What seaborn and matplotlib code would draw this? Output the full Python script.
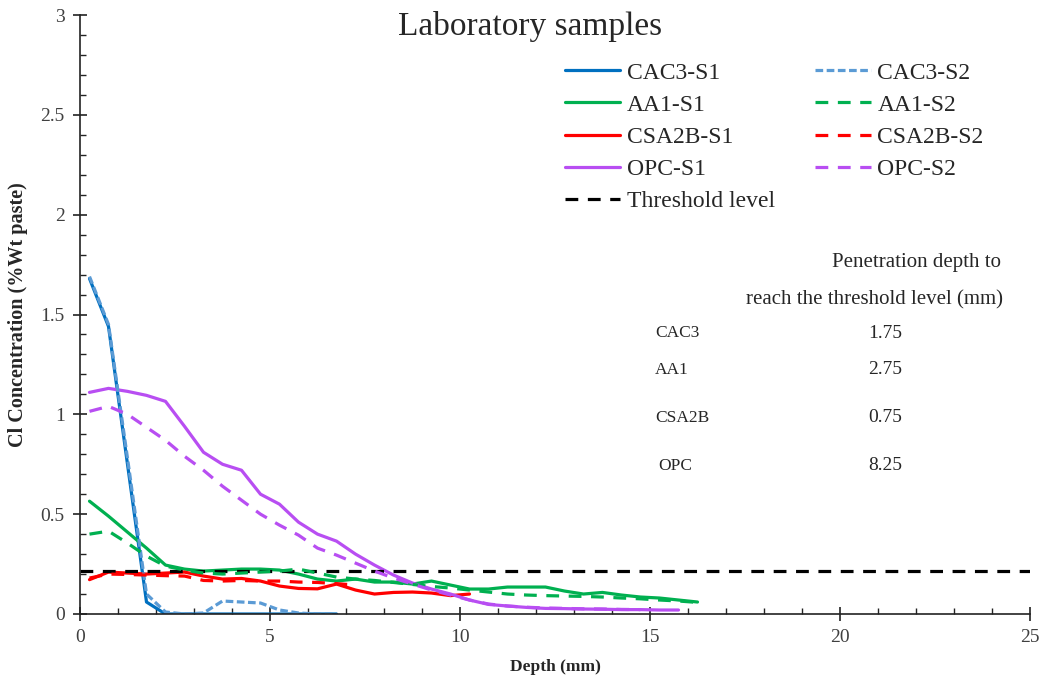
import numpy as np
import pandas as pd
import matplotlib
matplotlib.use("Agg")
import matplotlib.pyplot as plt
import seaborn as sns

# ---------------- data ----------------
cac3_s1_x = [0.25, 0.75, 1.25, 1.75, 2.25, 2.75, 3.25, 3.75, 4.25, 4.75, 5.25, 5.75, 6.25, 6.75]
cac3_s1_y = [1.68, 1.44, 0.75, 0.06, 0.0, 0.0, 0.0, 0.0, 0.0, 0.0, 0.0, 0.0, 0.0, 0.0]
cac3_s2_x = [0.25, 0.75, 1.25, 1.75, 2.25, 2.75, 3.25, 3.75, 4.25, 4.75, 5.25, 5.75, 6.25, 6.75]
cac3_s2_y = [1.69, 1.45, 0.78, 0.10, 0.01, 0.0, 0.005, 0.065, 0.06, 0.055, 0.02, 0.005, 0.0, 0.0]

aa1_s1_x = [0.25, 0.75, 1.25, 1.75, 2.25, 2.75, 3.25, 3.75, 4.25, 4.75, 5.25, 5.75, 6.25, 6.75,
            7.25, 7.75, 8.25, 8.75, 9.25, 9.75, 10.25, 10.75, 11.25, 11.75, 12.25, 12.75, 13.25,
            13.75, 14.25, 14.75, 15.25, 15.75, 16.25]
aa1_s1_y = [0.565, 0.49, 0.41, 0.33, 0.245, 0.225, 0.215, 0.22, 0.225, 0.225, 0.22, 0.20, 0.175,
            0.165, 0.175, 0.16, 0.16, 0.15, 0.165, 0.145, 0.125, 0.125, 0.135, 0.135, 0.135, 0.115,
            0.10, 0.108, 0.095, 0.085, 0.08, 0.07, 0.06]
aa1_s2_x = [0.25, 0.75, 1.25, 1.75, 2.25, 2.75, 3.25, 3.75, 4.25, 4.75, 5.25, 5.75, 6.25, 6.75,
            7.25, 7.75, 8.25, 8.75, 9.25, 9.75, 10.25, 10.75, 11.25, 11.75, 12.25, 12.75, 13.25,
            13.75, 14.25, 14.75, 15.25, 15.75, 16.25]
aa1_s2_y = [0.40, 0.415, 0.355, 0.29, 0.24, 0.22, 0.205, 0.20, 0.205, 0.21, 0.215, 0.225, 0.205,
            0.185, 0.175, 0.168, 0.158, 0.148, 0.138, 0.13, 0.12, 0.11, 0.10, 0.095, 0.092, 0.09,
            0.088, 0.085, 0.08, 0.076, 0.07, 0.065, 0.058]

csa_s1_x = [0.25, 0.75, 1.25, 1.75, 2.25, 2.75, 3.25, 3.75, 4.25, 4.75, 5.25, 5.75, 6.25, 6.75,
            7.25, 7.75, 8.25, 8.75, 9.25, 9.75, 10.25]
csa_s1_y = [0.172, 0.21, 0.205, 0.20, 0.205, 0.21, 0.19, 0.175, 0.178, 0.165, 0.14, 0.128, 0.126,
            0.15, 0.12, 0.10, 0.108, 0.11, 0.105, 0.092, 0.10]
csa_s2_x = [0.25, 0.75, 1.25, 1.75, 2.25, 2.75, 3.25, 3.75, 4.25, 4.75, 5.25, 5.75, 6.25, 6.75, 7.25]
csa_s2_y = [0.18, 0.20, 0.198, 0.195, 0.192, 0.19, 0.168, 0.165, 0.168, 0.165, 0.165, 0.16, 0.158,
            0.152, 0.145]

opc_s1_x = [0.25, 0.75, 1.25, 1.75, 2.25, 2.75, 3.25, 3.75, 4.25, 4.75, 5.25, 5.75, 6.25, 6.75,
            7.25, 7.75, 8.25, 8.75, 9.25, 9.75, 10.25, 10.75, 11.25, 11.75, 12.25, 12.75, 13.25,
            13.75, 14.25, 14.75, 15.25, 15.75]
opc_s1_y = [1.11, 1.13, 1.115, 1.095, 1.065, 0.94, 0.81, 0.75, 0.72, 0.60, 0.55, 0.46, 0.40, 0.365,
            0.30, 0.245, 0.195, 0.155, 0.125, 0.10, 0.07, 0.048, 0.04, 0.033, 0.028, 0.027, 0.025,
            0.024, 0.022, 0.022, 0.02, 0.02]
opc_s2_x = [0.25, 0.75, 1.25, 1.75, 2.25, 2.75, 3.25, 3.75, 4.25, 4.75, 5.25, 5.75, 6.25, 6.75,
            7.25, 7.75, 8.25, 8.75, 9.25, 9.75, 10.25, 10.75, 11.25, 11.75, 12.25, 12.75, 13.25,
            13.75, 14.25, 14.75]
opc_s2_y = [1.015, 1.04, 1.0, 0.935, 0.87, 0.79, 0.72, 0.64, 0.57, 0.50, 0.445, 0.395, 0.33, 0.295,
            0.255, 0.215, 0.18, 0.15, 0.12, 0.095, 0.07, 0.05, 0.04, 0.034, 0.03, 0.028, 0.026,
            0.025, 0.023, 0.022]

threshold_x = [0, 25]
threshold_y = [0.215, 0.215]

table_materials = ["CAC3", "AA1", "CSA2B", "OPC"]
table_depths = ["1.75", "2.75", "0.75", "8.25"]

# ---------------- style ----------------
sns.set_theme(style="white")
plt.rcParams["font.family"] = ["Liberation Serif", "DejaVu Serif"]
plt.rcParams["axes.unicode_minus"] = False

W, H = 1044, 686
fig = plt.figure(figsize=(W / 100, H / 100), dpi=100)
AX_L, AX_R, AX_T, AX_B = 80, 1030, 15, 614
ax = fig.add_axes([AX_L / W, 1 - AX_B / H, (AX_R - AX_L) / W, (AX_B - AX_T) / H])

BLUE = "#0070C0"
LBLUE = "#5B9BD5"
GREEN = "#00B050"
RED = "#FF0000"
PURPLE = "#B84EF2"
LW = 2.3

series = [
    ("CAC3-S1", cac3_s1_x, cac3_s1_y, BLUE, None),
    ("AA1-S1", aa1_s1_x, aa1_s1_y, GREEN, None),
    ("CSA2B-S1", csa_s1_x, csa_s1_y, RED, None),
    ("OPC-S1", opc_s1_x, opc_s1_y, PURPLE, None),
    ("Threshold level", threshold_x, threshold_y, "black", (4, 3)),
    ("CAC3-S2", cac3_s2_x, cac3_s2_y, LBLUE, (2.4, 1.1)),
    ("AA1-S2", aa1_s2_x, aa1_s2_y, GREEN, (4, 3)),
    ("CSA2B-S2", csa_s2_x, csa_s2_y, RED, (4, 3)),
    ("OPC-S2", opc_s2_x, opc_s2_y, PURPLE, (4, 3)),
]

handles = []
for name, xs, ys, col, dash in series:
    df = pd.DataFrame({"Depth": xs, "Cl": ys})
    sns.lineplot(data=df, x="Depth", y="Cl", ax=ax, color=col, lw=LW,
                 estimator=None, sort=False, label=name)
    line = ax.get_lines()[-1]
    if dash is not None:
        line.set_dashes(dash)
    handles.append(line)

ax.set_xlim(0, 25)
ax.set_ylim(0, 3)
ax.set_xticks([0, 5, 10, 15, 20, 25])
ax.set_xticklabels(["0", "5", "10", "15", "20", "25"])
ax.set_yticks([0, 0.5, 1, 1.5, 2, 2.5, 3])
ax.set_yticklabels(["0", "0.5", "1", "1.5", "2", "2.5", "3"])
ax.set_xticks(np.arange(0, 26, 1), minor=True)
ax.set_yticks(np.arange(0, 3.01, 0.1), minor=True)
ax.tick_params(axis="both", which="both", bottom=True, left=True, top=False, right=False)
ax.tick_params(axis="both", which="major", direction="inout", length=10, width=1.2,
               colors="#222222", labelsize=14, labelcolor="#404040", pad=6)
ax.tick_params(axis="both", which="minor", direction="in", length=4.5, width=1.0, colors="#222222")
for s in ["top", "right"]:
    ax.spines[s].set_visible(False)
for s in ["left", "bottom"]:
    ax.spines[s].set_color("#222222")
    ax.spines[s].set_linewidth(1.2)

ax.set_xlabel("Depth (mm)", fontsize=12.5, fontweight="bold", labelpad=9)
ax.set_ylabel("Cl Concentration (%Wt paste)", fontsize=14.5, fontweight="bold", labelpad=9)
fig.text(530 / W, 1 - 35 / H, "Laboratory samples", fontsize=24, ha="center", va="baseline")

def fx(px):
    return (px - AX_L) / (AX_R - AX_L)

def fy(py):
    return (AX_B - py) / (AX_B - AX_T)

leg = ax.legend(handles=handles, labels=[s[0] for s in series], ncol=2, loc="upper left",
                bbox_to_anchor=(fx(565), fy(62)), frameon=False, fontsize=17,
                handlelength=2.35, handletextpad=0.28, columnspacing=1.7, labelspacing=0.45,
                borderaxespad=0, borderpad=0)

# penetration-depth table
ax.text(fx(1001), fy(262), "Penetration depth to", transform=ax.transAxes,
        ha="right", va="center", fontsize=15)
ax.text(fx(1003), fy(300), "reach the threshold level (mm)", transform=ax.transAxes,
        ha="right", va="center", fontsize=15)
row_y = [333, 370, 418, 466]
row_x = [655, 655, 655, 658]
for name, val, ry, rx in zip(table_materials, table_depths, row_y, row_x):
    ax.text(fx(rx), fy(ry), name, transform=ax.transAxes, ha="left", va="center", fontsize=12.5)
    ax.text(fx(885), fy(ry), val, transform=ax.transAxes, ha="center", va="center", fontsize=14)

fig.savefig("out.png", dpi=100)
